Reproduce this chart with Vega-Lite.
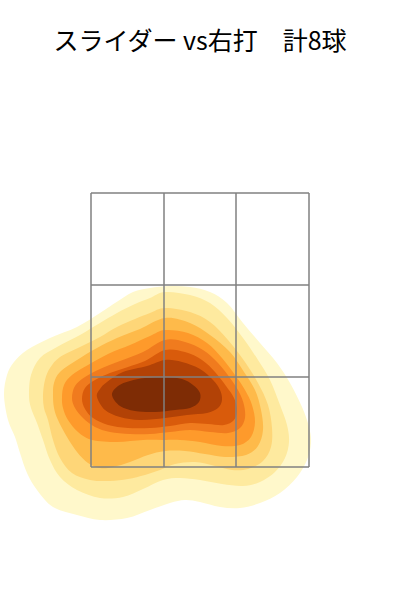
{
"$schema": "https://vega.github.io/schema/vega-lite/v6.json",
"width": 400, "height": 520,
"autosize": "none",
"padding": {"top": 80, "left": 0, "right": 0, "bottom": 0},
"title": {"text": "スライダー vs右打　計8球", "font": "Noto Sans CJK JP", "fontSize": 25, "fontWeight": "normal", "color": "#000000", "anchor": "middle", "offset": 25},
"config": {"view": {"stroke": null}},
"datasets": {
"contours": [
{"l":"L1","i":0,"x":-1.96,"y":-0.65},{"l":"L1","i":1,"x":-1.93,"y":-0.45},{"l":"L1","i":2,"x":-1.86,"y":-0.32},{"l":"L1","i":3,"x":-1.73,"y":-0.20},{"l":"L1","i":4,"x":-1.50,"y":-0.08},{"l":"L1","i":5,"x":-1.23,"y":0.03},{"l":"L1","i":6,"x":-1.00,"y":0.17},{"l":"L1","i":7,"x":-0.85,"y":0.27},{"l":"L1","i":8,"x":-0.67,"y":0.38},{"l":"L1","i":9,"x":-0.50,"y":0.42},{"l":"L1","i":10,"x":-0.30,"y":0.44},{"l":"L1","i":11,"x":-0.10,"y":0.43},{"l":"L1","i":12,"x":0.10,"y":0.38},{"l":"L1","i":13,"x":0.27,"y":0.27},{"l":"L1","i":14,"x":0.43,"y":0.07},{"l":"L1","i":15,"x":0.60,"y":-0.13},{"l":"L1","i":16,"x":0.77,"y":-0.33},{"l":"L1","i":17,"x":0.90,"y":-0.53},{"l":"L1","i":18,"x":1.02,"y":-0.77},{"l":"L1","i":19,"x":1.09,"y":-0.97},{"l":"L1","i":20,"x":1.11,"y":-1.13},{"l":"L1","i":21,"x":1.07,"y":-1.30},{"l":"L1","i":22,"x":0.97,"y":-1.47},{"l":"L1","i":23,"x":0.80,"y":-1.63},{"l":"L1","i":24,"x":0.60,"y":-1.73},{"l":"L1","i":25,"x":0.40,"y":-1.78},{"l":"L1","i":26,"x":0.20,"y":-1.77},{"l":"L1","i":27,"x":0.00,"y":-1.72},{"l":"L1","i":28,"x":-0.15,"y":-1.70},{"l":"L1","i":29,"x":-0.30,"y":-1.73},{"l":"L1","i":30,"x":-0.50,"y":-1.80},{"l":"L1","i":31,"x":-0.73,"y":-1.88},{"l":"L1","i":32,"x":-1.00,"y":-1.90},{"l":"L1","i":33,"x":-1.23,"y":-1.85},{"l":"L1","i":34,"x":-1.47,"y":-1.77},{"l":"L1","i":35,"x":-1.63,"y":-1.60},{"l":"L1","i":36,"x":-1.73,"y":-1.43},{"l":"L1","i":37,"x":-1.80,"y":-1.23},{"l":"L1","i":38,"x":-1.85,"y":-1.07},{"l":"L1","i":39,"x":-1.92,"y":-0.90},
{"l":"L2","i":0,"x":-1.71,"y":-0.65},{"l":"L2","i":1,"x":-1.69,"y":-0.45},{"l":"L2","i":2,"x":-1.60,"y":-0.28},{"l":"L2","i":3,"x":-1.43,"y":-0.17},{"l":"L2","i":4,"x":-1.20,"y":-0.05},{"l":"L2","i":5,"x":-1.00,"y":0.07},{"l":"L2","i":6,"x":-0.83,"y":0.17},{"l":"L2","i":7,"x":-0.65,"y":0.26},{"l":"L2","i":8,"x":-0.50,"y":0.32},{"l":"L2","i":9,"x":-0.35,"y":0.38},{"l":"L2","i":10,"x":-0.10,"y":0.35},{"l":"L2","i":11,"x":0.10,"y":0.27},{"l":"L2","i":12,"x":0.27,"y":0.12},{"l":"L2","i":13,"x":0.43,"y":-0.08},{"l":"L2","i":14,"x":0.58,"y":-0.30},{"l":"L2","i":15,"x":0.70,"y":-0.50},{"l":"L2","i":16,"x":0.80,"y":-0.75},{"l":"L2","i":17,"x":0.87,"y":-0.95},{"l":"L2","i":18,"x":0.89,"y":-1.12},{"l":"L2","i":19,"x":0.85,"y":-1.28},{"l":"L2","i":20,"x":0.75,"y":-1.42},{"l":"L2","i":21,"x":0.60,"y":-1.52},{"l":"L2","i":22,"x":0.43,"y":-1.56},{"l":"L2","i":23,"x":0.22,"y":-1.54},{"l":"L2","i":24,"x":0.00,"y":-1.50},{"l":"L2","i":25,"x":-0.20,"y":-1.48},{"l":"L2","i":26,"x":-0.37,"y":-1.50},{"l":"L2","i":27,"x":-0.57,"y":-1.59},{"l":"L2","i":28,"x":-0.77,"y":-1.67},{"l":"L2","i":29,"x":-1.00,"y":-1.68},{"l":"L2","i":30,"x":-1.23,"y":-1.60},{"l":"L2","i":31,"x":-1.40,"y":-1.47},{"l":"L2","i":32,"x":-1.50,"y":-1.30},{"l":"L2","i":33,"x":-1.57,"y":-1.10},{"l":"L2","i":34,"x":-1.63,"y":-0.93},{"l":"L2","i":35,"x":-1.69,"y":-0.78},
{"l":"L3","i":0,"x":-1.57,"y":-0.65},{"l":"L3","i":1,"x":-1.55,"y":-0.50},{"l":"L3","i":2,"x":-1.50,"y":-0.38},{"l":"L3","i":3,"x":-1.40,"y":-0.27},{"l":"L3","i":4,"x":-1.20,"y":-0.17},{"l":"L3","i":5,"x":-1.00,"y":-0.07},{"l":"L3","i":6,"x":-0.83,"y":0.03},{"l":"L3","i":7,"x":-0.65,"y":0.11},{"l":"L3","i":8,"x":-0.50,"y":0.17},{"l":"L3","i":9,"x":-0.35,"y":0.22},{"l":"L3","i":10,"x":-0.10,"y":0.18},{"l":"L3","i":11,"x":0.10,"y":0.08},{"l":"L3","i":12,"x":0.28,"y":-0.10},{"l":"L3","i":13,"x":0.45,"y":-0.32},{"l":"L3","i":14,"x":0.58,"y":-0.53},{"l":"L3","i":15,"x":0.68,"y":-0.75},{"l":"L3","i":16,"x":0.72,"y":-0.98},{"l":"L3","i":17,"x":0.71,"y":-1.17},{"l":"L3","i":18,"x":0.63,"y":-1.31},{"l":"L3","i":19,"x":0.48,"y":-1.39},{"l":"L3","i":20,"x":0.32,"y":-1.40},{"l":"L3","i":21,"x":0.15,"y":-1.36},{"l":"L3","i":22,"x":-0.05,"y":-1.32},{"l":"L3","i":23,"x":-0.25,"y":-1.34},{"l":"L3","i":24,"x":-0.40,"y":-1.40},{"l":"L3","i":25,"x":-0.55,"y":-1.45},{"l":"L3","i":26,"x":-0.72,"y":-1.49},{"l":"L3","i":27,"x":-0.90,"y":-1.51},{"l":"L3","i":28,"x":-1.10,"y":-1.50},{"l":"L3","i":29,"x":-1.28,"y":-1.43},{"l":"L3","i":30,"x":-1.40,"y":-1.28},{"l":"L3","i":31,"x":-1.47,"y":-1.10},{"l":"L3","i":32,"x":-1.52,"y":-0.90},{"l":"L3","i":33,"x":-1.56,"y":-0.78},
{"l":"L4","i":0,"x":-1.47,"y":-0.65},{"l":"L4","i":1,"x":-1.46,"y":-0.53},{"l":"L4","i":2,"x":-1.40,"y":-0.42},{"l":"L4","i":3,"x":-1.23,"y":-0.30},{"l":"L4","i":4,"x":-1.03,"y":-0.18},{"l":"L4","i":5,"x":-0.83,"y":-0.08},{"l":"L4","i":6,"x":-0.60,"y":0.01},{"l":"L4","i":7,"x":-0.35,"y":0.12},{"l":"L4","i":8,"x":-0.10,"y":0.07},{"l":"L4","i":9,"x":0.10,"y":-0.05},{"l":"L4","i":10,"x":0.30,"y":-0.22},{"l":"L4","i":11,"x":0.44,"y":-0.42},{"l":"L4","i":12,"x":0.55,"y":-0.60},{"l":"L4","i":13,"x":0.61,"y":-0.80},{"l":"L4","i":14,"x":0.63,"y":-1.00},{"l":"L4","i":15,"x":0.58,"y":-1.16},{"l":"L4","i":16,"x":0.46,"y":-1.25},{"l":"L4","i":17,"x":0.25,"y":-1.27},{"l":"L4","i":18,"x":0.05,"y":-1.24},{"l":"L4","i":19,"x":-0.15,"y":-1.21},{"l":"L4","i":20,"x":-0.35,"y":-1.21},{"l":"L4","i":21,"x":-0.52,"y":-1.25},{"l":"L4","i":22,"x":-0.70,"y":-1.32},{"l":"L4","i":23,"x":-0.87,"y":-1.37},{"l":"L4","i":24,"x":-1.00,"y":-1.38},{"l":"L4","i":25,"x":-1.12,"y":-1.33},{"l":"L4","i":26,"x":-1.23,"y":-1.22},{"l":"L4","i":27,"x":-1.33,"y":-1.07},{"l":"L4","i":28,"x":-1.42,"y":-0.90},{"l":"L4","i":29,"x":-1.46,"y":-0.78},
{"l":"L5","i":0,"x":-1.38,"y":-0.67},{"l":"L5","i":1,"x":-1.36,"y":-0.55},{"l":"L5","i":2,"x":-1.28,"y":-0.45},{"l":"L5","i":3,"x":-1.12,"y":-0.35},{"l":"L5","i":4,"x":-0.92,"y":-0.24},{"l":"L5","i":5,"x":-0.70,"y":-0.15},{"l":"L5","i":6,"x":-0.50,"y":-0.06},{"l":"L5","i":7,"x":-0.35,"y":0.00},{"l":"L5","i":8,"x":-0.12,"y":-0.03},{"l":"L5","i":9,"x":0.07,"y":-0.13},{"l":"L5","i":10,"x":0.22,"y":-0.28},{"l":"L5","i":11,"x":0.35,"y":-0.45},{"l":"L5","i":12,"x":0.45,"y":-0.60},{"l":"L5","i":13,"x":0.52,"y":-0.75},{"l":"L5","i":14,"x":0.55,"y":-0.92},{"l":"L5","i":15,"x":0.51,"y":-1.07},{"l":"L5","i":16,"x":0.40,"y":-1.15},{"l":"L5","i":17,"x":0.22,"y":-1.16},{"l":"L5","i":18,"x":0.00,"y":-1.12},{"l":"L5","i":19,"x":-0.20,"y":-1.10},{"l":"L5","i":20,"x":-0.37,"y":-1.10},{"l":"L5","i":21,"x":-0.57,"y":-1.10},{"l":"L5","i":22,"x":-0.83,"y":-1.12},{"l":"L5","i":23,"x":-1.08,"y":-1.10},{"l":"L5","i":24,"x":-1.22,"y":-1.02},{"l":"L5","i":25,"x":-1.32,"y":-0.90},{"l":"L5","i":26,"x":-1.37,"y":-0.78},
{"l":"L6","i":0,"x":-1.28,"y":-0.68},{"l":"L6","i":1,"x":-1.25,"y":-0.56},{"l":"L6","i":2,"x":-1.15,"y":-0.47},{"l":"L6","i":3,"x":-1.00,"y":-0.39},{"l":"L6","i":4,"x":-0.80,"y":-0.31},{"l":"L6","i":5,"x":-0.57,"y":-0.22},{"l":"L6","i":6,"x":-0.35,"y":-0.10},{"l":"L6","i":7,"x":-0.15,"y":-0.12},{"l":"L6","i":8,"x":0.03,"y":-0.20},{"l":"L6","i":9,"x":0.18,"y":-0.33},{"l":"L6","i":10,"x":0.30,"y":-0.48},{"l":"L6","i":11,"x":0.39,"y":-0.62},{"l":"L6","i":12,"x":0.44,"y":-0.75},{"l":"L6","i":13,"x":0.45,"y":-0.88},{"l":"L6","i":14,"x":0.40,"y":-0.98},{"l":"L6","i":15,"x":0.28,"y":-1.03},{"l":"L6","i":16,"x":0.10,"y":-1.02},{"l":"L6","i":17,"x":-0.10,"y":-1.00},{"l":"L6","i":18,"x":-0.30,"y":-1.02},{"l":"L6","i":19,"x":-0.50,"y":-1.04},{"l":"L6","i":20,"x":-0.70,"y":-1.04},{"l":"L6","i":21,"x":-0.90,"y":-1.02},{"l":"L6","i":22,"x":-1.05,"y":-0.97},{"l":"L6","i":23,"x":-1.17,"y":-0.88},{"l":"L6","i":24,"x":-1.25,"y":-0.78},
{"l":"L7","i":0,"x":-1.18,"y":-0.69},{"l":"L7","i":1,"x":-1.15,"y":-0.58},{"l":"L7","i":2,"x":-1.05,"y":-0.50},{"l":"L7","i":3,"x":-0.90,"y":-0.43},{"l":"L7","i":4,"x":-0.72,"y":-0.37},{"l":"L7","i":5,"x":-0.55,"y":-0.31},{"l":"L7","i":6,"x":-0.35,"y":-0.20},{"l":"L7","i":7,"x":-0.15,"y":-0.22},{"l":"L7","i":8,"x":0.02,"y":-0.30},{"l":"L7","i":9,"x":0.15,"y":-0.42},{"l":"L7","i":10,"x":0.26,"y":-0.56},{"l":"L7","i":11,"x":0.34,"y":-0.68},{"l":"L7","i":12,"x":0.37,"y":-0.80},{"l":"L7","i":13,"x":0.34,"y":-0.90},{"l":"L7","i":14,"x":0.24,"y":-0.95},{"l":"L7","i":15,"x":0.08,"y":-0.94},{"l":"L7","i":16,"x":-0.10,"y":-0.93},{"l":"L7","i":17,"x":-0.30,"y":-0.96},{"l":"L7","i":18,"x":-0.50,"y":-0.98},{"l":"L7","i":19,"x":-0.72,"y":-0.98},{"l":"L7","i":20,"x":-0.92,"y":-0.95},{"l":"L7","i":21,"x":-1.07,"y":-0.88},{"l":"L7","i":22,"x":-1.15,"y":-0.79},
{"l":"L8","i":0,"x":-1.03,"y":-0.67},{"l":"L8","i":1,"x":-1.00,"y":-0.59},{"l":"L8","i":2,"x":-0.93,"y":-0.52},{"l":"L8","i":3,"x":-0.77,"y":-0.42},{"l":"L8","i":4,"x":-0.53,"y":-0.36},{"l":"L8","i":5,"x":-0.35,"y":-0.30},{"l":"L8","i":6,"x":-0.18,"y":-0.32},{"l":"L8","i":7,"x":0.00,"y":-0.39},{"l":"L8","i":8,"x":0.13,"y":-0.50},{"l":"L8","i":9,"x":0.20,"y":-0.60},{"l":"L8","i":10,"x":0.22,"y":-0.70},{"l":"L8","i":11,"x":0.18,"y":-0.78},{"l":"L8","i":12,"x":0.07,"y":-0.83},{"l":"L8","i":13,"x":-0.13,"y":-0.85},{"l":"L8","i":14,"x":-0.35,"y":-0.88},{"l":"L8","i":15,"x":-0.60,"y":-0.90},{"l":"L8","i":16,"x":-0.80,"y":-0.87},{"l":"L8","i":17,"x":-0.95,"y":-0.80},
{"l":"L9","i":0,"x":-0.88,"y":-0.65},{"l":"L9","i":1,"x":-0.82,"y":-0.56},{"l":"L9","i":2,"x":-0.70,"y":-0.51},{"l":"L9","i":3,"x":-0.55,"y":-0.48},{"l":"L9","i":4,"x":-0.35,"y":-0.47},{"l":"L9","i":5,"x":-0.18,"y":-0.49},{"l":"L9","i":6,"x":-0.07,"y":-0.55},{"l":"L9","i":7,"x":0.00,"y":-0.63},{"l":"L9","i":8,"x":-0.01,"y":-0.72},{"l":"L9","i":9,"x":-0.10,"y":-0.78},{"l":"L9","i":10,"x":-0.25,"y":-0.80},{"l":"L9","i":11,"x":-0.45,"y":-0.82},{"l":"L9","i":12,"x":-0.65,"y":-0.81},{"l":"L9","i":13,"x":-0.80,"y":-0.76}
],
"grid": [
{"x":-1.09,"x2":-1.09,"y":1.37,"y2":-1.37},{"x":-0.36,"x2":-0.36,"y":1.37,"y2":-1.37},{"x":0.36,"x2":0.36,"y":1.37,"y2":-1.37},{"x":1.09,"x2":1.09,"y":1.37,"y2":-1.37},
{"x":-1.09,"x2":1.09,"y":1.37,"y2":1.37},{"x":-1.09,"x2":1.09,"y":0.45,"y2":0.45},{"x":-1.09,"x2":1.09,"y":-0.47,"y2":-0.47},{"x":-1.09,"x2":1.09,"y":-1.37,"y2":-1.37}
]
},
"layer": [
{
"data": {"name": "contours"},
"mark": {"type": "line", "interpolate": "cardinal-closed", "strokeWidth": 0},
"encoding": {
"x": {"field": "x", "type": "quantitative", "scale": {"domain": [-2, 2], "nice": false, "zero": false}, "axis": null},
"y": {"field": "y", "type": "quantitative", "scale": {"domain": [-2.7, 2.5], "nice": false, "zero": false}, "axis": null},
"order": {"field": "i", "type": "quantitative"},
"fill": {"field": "l", "type": "nominal", "scale": {"domain": ["L1","L2","L3","L4","L5","L6","L7","L8","L9"], "range": ["#fff8cb","#feea9f","#fed678","#feba4a","#fe9a2b","#f07b1e","#d95b0b","#b24206","#7e2c05"]}, "legend": null}
}
},
{
"data": {"name": "grid"},
"mark": {"type": "rule", "color": "#808080", "strokeWidth": 1.5},
"encoding": {
"x": {"field": "x", "type": "quantitative", "scale": {"domain": [-2, 2], "nice": false, "zero": false}, "axis": null},
"y": {"field": "y", "type": "quantitative", "scale": {"domain": [-2.7, 2.5], "nice": false, "zero": false}, "axis": null},
"x2": {"field": "x2"},
"y2": {"field": "y2"}
}
}
]
}
